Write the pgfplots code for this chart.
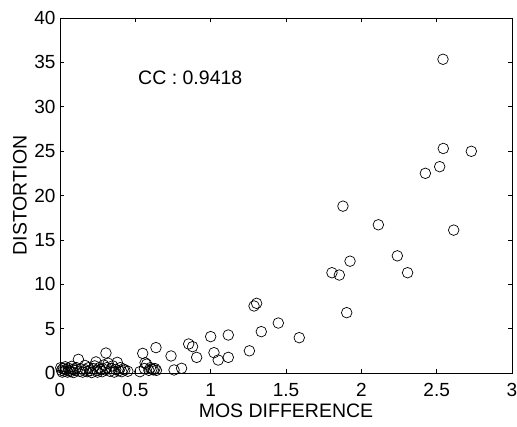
\documentclass[border=0pt]{standalone}
\usepackage{fontspec}
\setmainfont{Liberation Sans}
\usepackage{pgfplots}
\pgfplotsset{compat=1.18}
\usetikzlibrary{calc}

\begin{document}
\begin{tikzpicture}
\begin{axis}[
    at={(0,0)}, anchor=south west,
    scale only axis,
    width=452pt, height=355pt,
    xmin=0, xmax=3, ymin=0, ymax=40,
    xtick={0,0.5,1,1.5,2,2.5,3},
    ytick={0,5,10,15,20,25,30,35,40},
    xticklabels={0,0.5,1,1.5,2,2.5,3},
    tick align=inside,
    major tick length=4pt,
    tick style={black, line width=0.6pt},
    axis line style={line width=0.6pt},
    ticklabel style={font=\fontsize{19}{22}\selectfont},
    /pgf/number format/assume math mode=true,
    xticklabel style={yshift=-7pt},
    yticklabel style={xshift=-1pt},
    xlabel={MOS DIFFERENCE},
    ylabel={DISTORTION},
    label style={font=\fontsize{19.5}{22}\selectfont},
    xlabel style={at={($(rel axis cs:0.5,0)+(0,-38pt)$)}, anchor=center},
    ylabel style={at={($(rel axis cs:0,0.5)+(-40pt,0)$)}, anchor=center},
    clip=false,
]
\addplot[only marks, mark=o, mark size=5.3pt, black, mark options={line width=0.7pt}] coordinates {
(0.005,0.6) (0.01,0.3) (0.015,0.1) (0.02,0.5) (0.03,0.2) (0.035,0.7)
(0.04,0.4) (0.05,0.1) (0.055,0.55) (0.06,0.3) (0.07,0.15) (0.078,0.75)
(0.085,0.4) (0.09,0.05) (0.1,0.3) (0.11,0.6) (0.122,1.54) (0.13,0.2)
(0.14,0.45) (0.15,0.1) (0.166,0.85) (0.17,0.35) (0.18,0.15) (0.19,0.6)
(0.2,0.25) (0.21,0.05) (0.22,0.5) (0.23,0.8) (0.239,1.25) (0.245,0.3)
(0.25,0.1) (0.26,0.6) (0.27,0.4) (0.28,0.15) (0.29,0.9) (0.30,0.35)
(0.305,2.25) (0.31,0.6) (0.32,1.1) (0.33,0.2) (0.34,0.5) (0.35,0.8)
(0.36,0.1) (0.37,0.4) (0.38,1.2) (0.39,0.25) (0.40,0.6) (0.41,0.15)
(0.42,0.45) (0.43,0.35) (0.45,0.2)
(0.53,0.15) (0.549,2.21) (0.56,0.5) (0.565,1.15) (0.575,1.0) (0.59,0.3)
(0.6,0.6) (0.61,0.45) (0.62,0.35) (0.63,0.5) (0.637,2.86) (0.64,0.3)
(0.737,1.92) (0.757,0.34) (0.807,0.53) (0.854,3.27) (0.88,2.97) (0.907,1.76)
(1.0,4.1) (1.022,2.29) (1.05,1.46) (1.117,4.28) (1.117,1.76) (1.257,2.5)
(1.288,7.55) (1.305,7.85) (1.336,4.66) (1.449,5.63) (1.588,3.98)
(1.805,11.3) (1.854,11.04) (1.878,18.8) (1.903,6.8) (1.925,12.6)
(2.113,16.7) (2.239,13.2) (2.307,11.3) (2.425,22.5) (2.52,23.25)
(2.542,35.35) (2.544,25.3) (2.613,16.1) (2.73,24.98)
};
\node[anchor=west, inner sep=0pt, font=\fontsize{19.5}{22}\selectfont] at (axis cs:0.518,33.3) {CC : 0.9418};
\end{axis}
\pgfresetboundingbox
\path[use as bounding box] (-60pt,-53pt) rectangle (457pt,373pt);
\end{tikzpicture}
\end{document}
